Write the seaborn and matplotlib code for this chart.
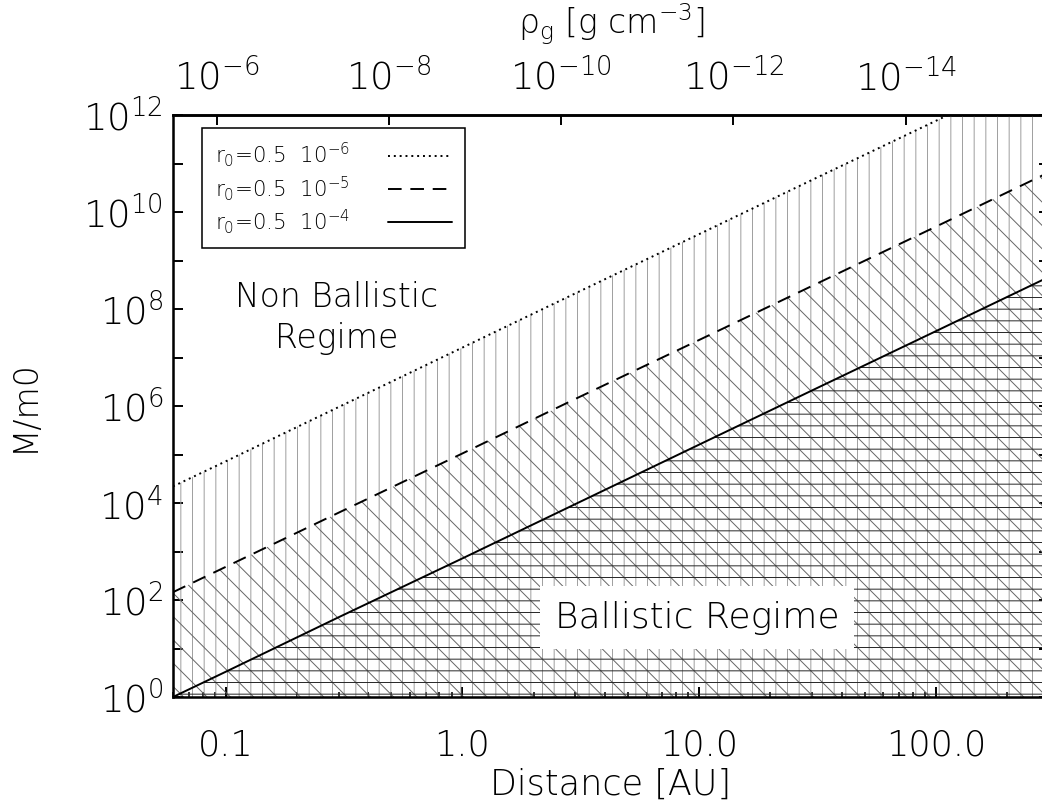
import numpy as np
import matplotlib
matplotlib.use('Agg')
import matplotlib.pyplot as plt
import seaborn as sns
from matplotlib import font_manager
from matplotlib.lines import Line2D
from matplotlib.ticker import FixedLocator, FixedFormatter, NullLocator

# valores (M/m0 frente a distancia en AU)
distance = [0.06, 0.1, 0.3, 1.0, 3.0, 10.0, 30.0, 100.0, 300.0]
m_r0_6 = [2.2e4, 7.2e4, 9.5e5, 1.6e7, 2.1e8, 3.5e9, 4.6e10, 7.6e11, 1.0e13]
m_r0_5 = [145, 480, 6.3e3, 1.05e5, 1.4e6, 2.3e7, 3.0e8, 5.0e9, 6.6e10]
m_r0_4 = [1.0, 3.3, 44, 720, 9.5e3, 1.6e5, 2.1e6, 3.5e7, 4.6e8]
legend_labels = [r'r$_0$=0.5  10$^{-6}$', r'r$_0$=0.5  10$^{-5}$', r'r$_0$=0.5  10$^{-4}$']

x_ticks = [0.1, 1.0, 10.0, 100.0]
x_ticklabels = ['0.1', '1.0', '10.0', '100.0']
y_ticks = [10.0 ** k for k in range(13)]
y_ticklabels = [r'$10^{%d}$' % k if k % 2 == 0 else '' for k in range(13)]
rho_ticks = [1e-6, 1e-8, 1e-10, 1e-12, 1e-14]
rho_ticklabels = [r'$10^{-6}$', r'$10^{-8}$', r'$10^{-10}$', r'$10^{-12}$', r'$10^{-14}$']
rho_1au = 1.4e-9
rho_exp = -2.75

sns.set_style('ticks')

# buscar una fuente fina parecida a la de IDL
font_name = 'DejaVu Sans'
for fam in ['DejaVu Sans', 'Lato', 'Roboto', 'Open Sans', 'Noto Sans']:
    try:
        p = font_manager.findfont(font_manager.FontProperties(family=fam, weight='light'),
                                  fallback_to_default=False)
    except Exception:
        continue
    if 'light' in p.lower():
        font_name = fam
        break

plt.rcParams['font.family'] = [font_name, 'DejaVu Sans']
plt.rcParams['font.weight'] = 'light'
plt.rcParams['axes.labelweight'] = 'light'
plt.rcParams['text.color'] = 'k'
plt.rcParams['axes.labelcolor'] = 'k'
plt.rcParams['axes.edgecolor'] = 'k'
plt.rcParams['xtick.color'] = 'k'
plt.rcParams['ytick.color'] = 'k'
plt.rcParams['mathtext.fontset'] = 'custom'
plt.rcParams['mathtext.rm'] = font_name + ':light'
plt.rcParams['mathtext.it'] = font_name + ':italic:light'
plt.rcParams['mathtext.default'] = 'regular'
plt.rcParams['hatch.linewidth'] = 0.5
plt.rcParams['axes.linewidth'] = 1.3

fig = plt.figure(figsize=(1042 / 140, 805 / 140), dpi=140)
ax = fig.add_axes([173 / 1042, 1 - 697 / 805, (1049 - 173) / 1042, 582 / 805])
ax.set_xscale('log')
ax.set_yscale('log')

# zonas rellenas con tramas
ax.fill_between(distance, 0.1, m_r0_6, facecolor='none', edgecolor='0.62', linewidth=0, hatch='||')
ax.fill_between(distance, 0.1, m_r0_5, facecolor='none', edgecolor='0.4', linewidth=0, hatch='\\\\')
ax.fill_between(distance, 0.1, m_r0_4, facecolor='none', edgecolor='0.15', linewidth=0, hatch='--')

sns.lineplot(x=distance, y=m_r0_6, ax=ax, color='k', linewidth=1.0, linestyle=(0, (1, 2)))
sns.lineplot(x=distance, y=m_r0_5, ax=ax, color='k', linewidth=1.0, linestyle=(0, (7, 4.5)))
sns.lineplot(x=distance, y=m_r0_4, ax=ax, color='k', linewidth=1.0, linestyle='-')

ax.set_xlim(0.06, 300)
ax.set_ylim(1, 1e12)

ax.xaxis.set_major_locator(FixedLocator(x_ticks))
ax.xaxis.set_major_formatter(FixedFormatter(x_ticklabels))
ax.yaxis.set_major_locator(FixedLocator(y_ticks))
ax.yaxis.set_major_formatter(FixedFormatter(y_ticklabels))
ax.yaxis.set_minor_locator(NullLocator())
ax.tick_params(axis='both', which='major', direction='in', length=5, width=1.0, colors='k')
ax.tick_params(axis='x', which='minor', direction='in', length=2.5, width=0.8)
ax.tick_params(axis='x', which='both', top=False, labelsize=18, pad=16)
ax.tick_params(axis='y', right=True, labelsize=19, pad=5)

ax.set_xlabel('Distance [AU]', fontsize=18, fontweight='light', labelpad=3)
ax.set_ylabel('M/m0', fontsize=17, fontweight='light', labelpad=22)

# eje superior: densidad del gas
secax = ax.secondary_xaxis('top', functions=(lambda r: rho_1au * np.power(r, rho_exp),
                                             lambda rho: np.power(rho / rho_1au, 1 / rho_exp)))
secax.xaxis.set_major_locator(FixedLocator(rho_ticks))
secax.xaxis.set_major_formatter(FixedFormatter(rho_ticklabels))
secax.xaxis.set_minor_locator(NullLocator())
secax.tick_params(axis='x', direction='in', length=5, width=1.0, labelsize=19, pad=9)
secax.set_xlabel(r'$\rho_{\rm g}$ [g cm$^{-3}$]', fontsize=17, fontweight='light', labelpad=12)

handles = [Line2D([], [], color='k', lw=1.0, linestyle=(0, (1, 2))),
           Line2D([], [], color='k', lw=1.0, linestyle=(0, (7, 4.5))),
           Line2D([], [], color='k', lw=1.0, linestyle='-')]
leg = ax.legend(handles, legend_labels, loc='upper left', bbox_to_anchor=(0.033, 0.978),
                borderaxespad=0, markerfirst=False, fancybox=False, framealpha=1,
                edgecolor='k', fontsize=11, handlelength=3.0, handletextpad=1.8,
                borderpad=0.6, labelspacing=0.2)
leg.get_frame().set_linewidth(0.8)
for t in leg.get_texts():
    t.set_color('k')

ax.text(0.187, 0.651, 'Non Ballistic\nRegime', transform=ax.transAxes, fontsize=17,
        ha='center', va='center', linespacing=1.3)
ax.text(0.598, 0.136, 'Ballistic Regime', transform=ax.transAxes, fontsize=18.5,
        ha='center', va='center',
        bbox=dict(boxstyle='square,pad=0.4', facecolor='white', edgecolor='none'))

fig.savefig('out.png', dpi=140)
